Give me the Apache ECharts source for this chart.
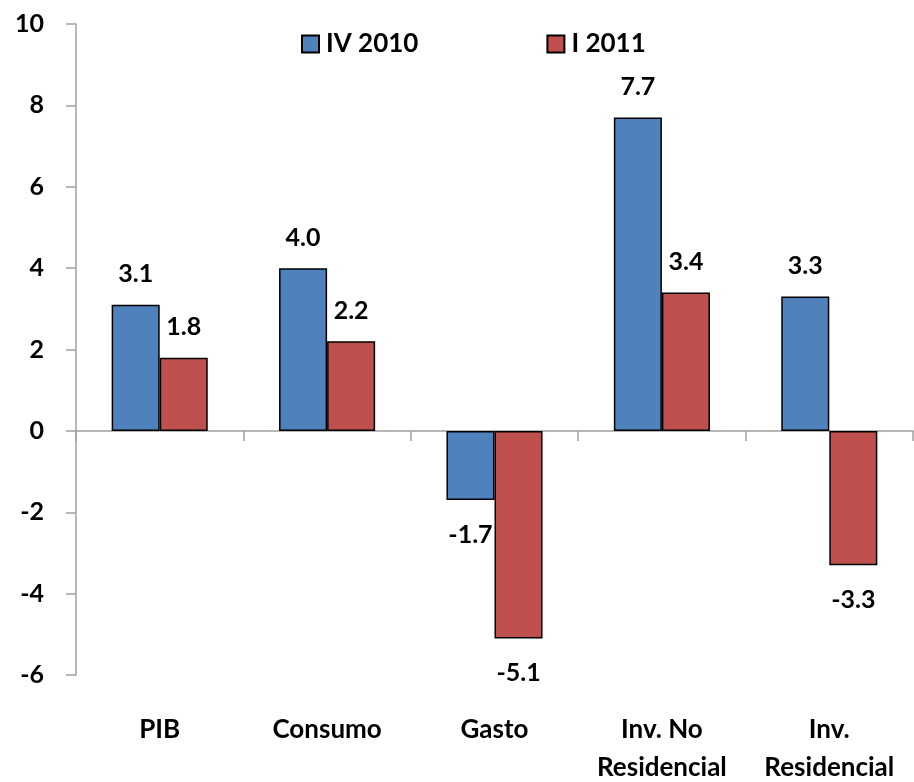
<!DOCTYPE html>
<html>
<head>
<meta charset="utf-8">
<script src="https://cdn.jsdelivr.net/npm/echarts@6/dist/echarts.min.js"></script>
<style>html,body{margin:0;padding:0;background:#fff}#c{width:914px;height:782px}</style>
</head>
<body>
<div id="c"></div>
<script>
const categories = ['PIB', 'Consumo', 'Gasto', 'Inv. No\nResidencial', 'Inv.\nResidencial'];
const seriesNames = ['IV 2010', 'I 2011'];
const iv2010 = [3.1, 4.0, -1.7, 7.7, 3.3];
const i2011 = [1.8, 2.2, -5.1, 3.4, -3.3];
const yTicks = { min: -6, max: 10, interval: 2 };

const FONT = 'Lato';
const colors = ['#4F81BD', '#C0504D'];
function mk(vals) {
  return vals.map(v => ({ value: v, label: { position: v < 0 ? 'bottom' : 'top', distance: v < 0 ? 22 : 18 } }));
}
const chart = echarts.init(document.getElementById('c'));
chart.setOption({
  animation: false,
  textStyle: { fontFamily: FONT },
  legend: {
    left: 296, top: 26,
    itemWidth: 17, itemHeight: 17, itemGap: 128,
    icon: 'rect',
    textStyle: { fontFamily: FONT, fontWeight: 'bold', fontSize: 26, color: '#000', padding: [0, 0, 0, 2] },
    data: seriesNames
  },
  grid: { left: 76, right: 1, top: 24, bottom: 107, containLabel: false, outerBoundsMode: 'none' },
  xAxis: [{
    type: 'category', data: categories,
    axisLine: { onZero: true, lineStyle: { color: '#A0A0A0', width: 1.5 } },
    axisTick: { show: true, length: 10, lineStyle: { color: '#A0A0A0', width: 1.5 } },
    axisLabel: { show: false }
  }, {
    type: 'category', data: categories, position: 'bottom',
    axisLine: { show: false, onZero: false }, axisTick: { show: false },
    axisLabel: { fontFamily: FONT, fontWeight: 'bold', fontSize: 26, color: '#000', lineHeight: 38, margin: 36, interval: 0 }
  }],
  yAxis: {
    type: 'value', min: yTicks.min, max: yTicks.max, interval: yTicks.interval,
    axisLine: { show: true, lineStyle: { color: '#A0A0A0', width: 1.5 } },
    axisTick: { show: true, length: 10, lineStyle: { color: '#A0A0A0', width: 1.5 } },
    splitLine: { show: false },
    axisLabel: { fontFamily: FONT, fontWeight: 'bold', fontSize: 25, color: '#000', margin: 32 }
  },
  series: [{
    name: seriesNames[0], type: 'bar', data: mk(iv2010), barGap: '0%', barCategoryGap: '42.6%',
    itemStyle: { color: colors[0], borderColor: '#000', borderWidth: 1.5 },
    label: { show: true, fontFamily: FONT, fontWeight: 'bold', fontSize: 25, color: '#000', formatter: p => p.value.toFixed(1) }
  }, {
    name: seriesNames[1], type: 'bar', data: mk(i2011), barGap: '0%', barCategoryGap: '42.6%',
    itemStyle: { color: colors[1], borderColor: '#000', borderWidth: 1.5 },
    label: { show: true, fontFamily: FONT, fontWeight: 'bold', fontSize: 25, color: '#000', formatter: p => p.value.toFixed(1) }
  }]
});
</script>
</body>
</html>
